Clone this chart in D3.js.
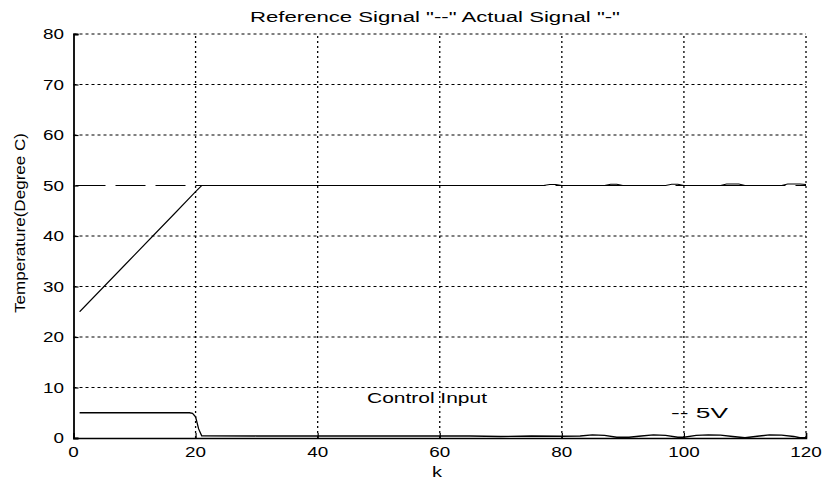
<!DOCTYPE html>
<html>
<head>
<meta charset="utf-8">
<script src="https://cdn.jsdelivr.net/npm/d3@7"></script>
<style>
  html, body { margin: 0; padding: 0; background: #fff; }
  text { font-family: "Liberation Sans", Arial, sans-serif; fill: #000; }
</style>
</head>
<body>
<svg id="chart" width="828" height="483"></svg>
<script>
// ---- data ----
const xTicks = [0, 20, 40, 60, 80, 100, 120];
const yTicks = [0, 10, 20, 30, 40, 50, 60, 70, 80];

const refK = [0, 120];
const refV = [50, 50];

const tempK = [1, 5, 9, 13, 17, 20, 21, 40, 60, 77, 78, 79, 80, 87, 88, 89, 90, 97, 98, 99, 100, 106, 107, 109, 110, 116, 117, 119, 120];
const tempV = [25, 30, 35, 40, 45, 48.8, 50, 50, 50, 50, 50.2, 50.2, 50, 50, 50.25, 50.25, 50, 50, 50.25, 50.25, 50, 50, 50.3, 50.3, 50, 50, 50.3, 50.3, 50.2];

const ctrlK = [1, 19, 19.5, 20, 20.5, 21, 30, 40, 50, 60, 65, 70, 75, 80, 83, 85, 87, 89, 91, 93, 95, 97, 99, 100, 102, 104, 106, 108, 110, 112, 114, 116, 118, 119, 120];
const ctrlV = [5, 5, 4.9, 4.2, 1.8, 0.45, 0.4, 0.4, 0.4, 0.4, 0.4, 0.3, 0.4, 0.35, 0.4, 0.6, 0.5, 0.15, 0.15, 0.4, 0.6, 0.5, 0.15, 0.15, 0.5, 0.6, 0.55, 0.3, 0.05, 0.35, 0.6, 0.55, 0.3, 0.05, 0.05];

const titleText = 'Reference Signal "--" Actual Signal "-"';
const xLabel = 'k';
const yLabel = 'Temperature(Degree C)';
const annot1 = 'Control Input';
const annot2 = '-- 5V';

// ---- layout ----
const svg = d3.select('#chart');
const x = d3.scaleLinear().domain([0, 120]).range([73.5, 806]);
const y = d3.scaleLinear().domain([0, 80]).range([438, 34]);
const digitW = 10.5;

// grid (the 50 line is hidden under the reference signal in the original)
const g = svg.append('g');
g.selectAll('line.hgrid').data(yTicks.filter(d => d > 0 && d !== refV[0])).enter().append('line')
  .attr('x1', x(0)).attr('x2', x(120))
  .attr('y1', d => y(d)).attr('y2', d => y(d))
  .attr('stroke', '#000').attr('stroke-width', 1).attr('stroke-dasharray', '3,3');
g.selectAll('line.vgrid').data(xTicks.filter(d => d > 0)).enter().append('line')
  .attr('x1', d => x(d)).attr('x2', d => x(d))
  .attr('y1', y(0)).attr('y2', y(80))
  .attr('stroke', '#000').attr('stroke-width', 1.3).attr('stroke-dasharray', '2,3');

// axes
const xAxis = d3.axisBottom(x).tickValues(xTicks).tickSize(-5).tickFormat('');
const yAxis = d3.axisLeft(y).tickValues(yTicks).tickSize(-5).tickFormat('');
svg.append('g').attr('transform', `translate(0,${y(0)})`).call(xAxis)
  .call(s => s.select('.domain').attr('stroke-width', 1.5))
  .call(s => s.selectAll('.tick line').attr('stroke-width', 1.2));
svg.append('g').attr('transform', `translate(${x(0)},0)`).call(yAxis)
  .call(s => s.select('.domain').attr('stroke-width', 1.8))
  .call(s => s.selectAll('.tick line').attr('stroke-width', 1.2));

// tick labels
svg.selectAll('text.xt').data(xTicks).enter().append('text')
  .attr('x', d => x(d)).attr('y', 457)
  .attr('text-anchor', 'middle').attr('font-size', 14)
  .attr('textLength', d => String(d).length * digitW).attr('lengthAdjust', 'spacingAndGlyphs')
  .text(d => d);
svg.selectAll('text.yt').data(yTicks).enter().append('text')
  .attr('x', 64).attr('y', d => y(d) + 5)
  .attr('text-anchor', 'end').attr('font-size', 14)
  .attr('textLength', d => String(d).length * digitW).attr('lengthAdjust', 'spacingAndGlyphs')
  .text(d => d);

// lines
const line = d3.line().x(d => x(d[0])).y(d => y(d[1]));
svg.append('path').datum(d3.zip(refK, refV)).attr('d', line)
  .attr('fill', 'none').attr('stroke', '#000').attr('stroke-width', 1.2)
  .attr('stroke-dasharray', '30,10').attr('stroke-dashoffset', -2);
svg.append('path').datum(d3.zip(tempK, tempV)).attr('d', line)
  .attr('fill', 'none').attr('stroke', '#000').attr('stroke-width', 1.1);
svg.append('path').datum(d3.zip(ctrlK, ctrlV)).attr('d', line)
  .attr('fill', 'none').attr('stroke', '#000').attr('stroke-width', 1.3);

// texts
svg.append('text').attr('x', 435).attr('y', 22).attr('text-anchor', 'middle').attr('font-size', 14)
  .attr('textLength', 370).attr('lengthAdjust', 'spacingAndGlyphs').text(titleText);
svg.append('text').attr('x', 437).attr('y', 477).attr('text-anchor', 'middle').attr('font-size', 14)
  .attr('textLength', 10).attr('lengthAdjust', 'spacingAndGlyphs').text(xLabel);
svg.append('text').attr('transform', 'translate(25,223) rotate(-90)')
  .attr('text-anchor', 'middle').attr('font-size', 14)
  .attr('textLength', 180).attr('lengthAdjust', 'spacingAndGlyphs').text(yLabel);
svg.append('text').attr('x', 367).attr('y', 403).attr('font-size', 14)
  .attr('textLength', 120).attr('lengthAdjust', 'spacingAndGlyphs').text(annot1);
svg.append('text').attr('x', 671).attr('y', 418).attr('font-size', 14)
  .attr('textLength', 57).attr('lengthAdjust', 'spacingAndGlyphs').text(annot2);
</script>
</body>
</html>
